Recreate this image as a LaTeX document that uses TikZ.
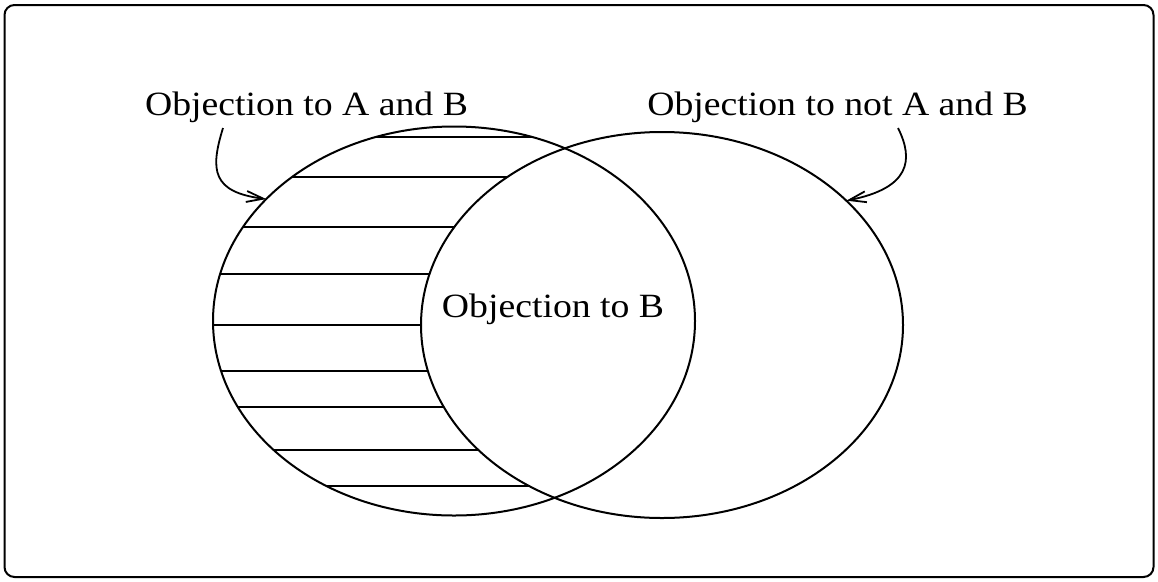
\documentclass[tikz,border=0pt]{standalone}
\usepackage{fontspec}
\setmainfont{Liberation Serif}
\usetikzlibrary{arrows.meta,shapes.geometric}
\begin{document}
\begin{tikzpicture}[x=1pt,y=-1pt,
  venn/.style={ellipse, draw, line width=2pt, minimum width=482pt, minimum height=389pt, inner sep=0pt, outer sep=0pt},
  hatch/.style={line width=2pt},
  lbl/.style={inner sep=0pt, anchor=base, font=\fontsize{34}{40}\selectfont},
  pointer/.style={line width=1.8pt, -{Straight Barb[length=17pt,width=11pt]}},
  frame/.style={line width=2pt, rounded corners=10pt}
]
\useasboundingbox (0,0) rectangle (1158,581);
\draw[frame] (4.5,5) rectangle (1153.5,577);
\begin{scope}
  \clip (454,321) ellipse [x radius=241pt, y radius=194.5pt];
  \foreach \yy in {137,177,227,274,325,371,407,450,486}
    \draw[hatch] (200,\yy) -- (720,\yy);
\end{scope}
\fill[white] (662,325) ellipse [x radius=241pt, y radius=193pt];
\node[venn] (A) at (454,321) {};
\node[venn, minimum height=386pt] (B) at (662,325) {};
\node[lbl] (lA) at (306.5,115) {\scalebox{1.11}[1]{Objection to A and B}};
\node[lbl] (lB) at (837.5,115) {\scalebox{1.11}[1]{Objection to not A and B}};
\node[lbl] (lAB) at (553,317) {\scalebox{1.11}[1]{Objection to B}};
\coordinate (sA) at (223,128);
\coordinate (sB) at (898,128);
\draw[pointer] (sA) .. controls (210,170) and (212,192) .. (A.147);
\draw[pointer] (sB) .. controls (914,160) and (910,188) .. (B.34);
\end{tikzpicture}
\end{document}
